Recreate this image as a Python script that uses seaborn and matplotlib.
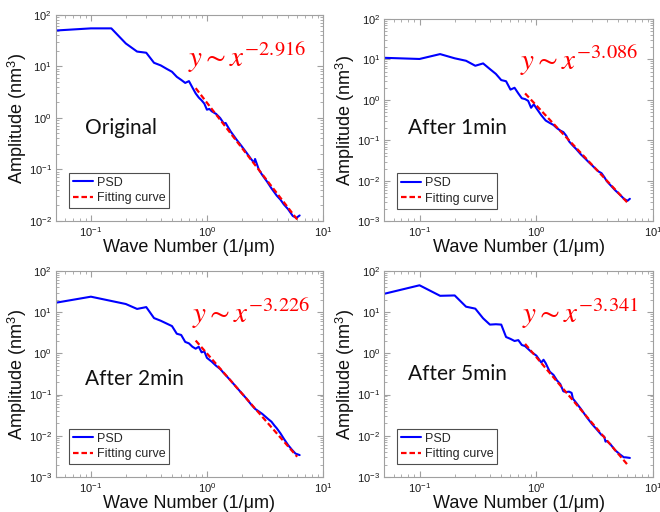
import numpy as np
import pandas as pd
import matplotlib
matplotlib.use('Agg')
import matplotlib.pyplot as plt
import seaborn as sns

# --- data ---
labels = ['Original', 'After 1min', 'After 2min', 'After 5min']
exponents = ['-2.916', '-3.086', '-3.226', '-3.341']

x_orig = [0.05, 0.1, 0.15, 0.2, 0.25, 0.3, 0.35, 0.4, 0.45, 0.5, 0.55, 0.6, 0.65, 0.7, 0.75,
          0.8, 0.85, 0.9, 0.95, 1.0, 1.05, 1.1, 1.2, 1.3, 1.4, 1.45, 1.5, 1.6, 1.8, 2.0,
          2.2, 2.4, 2.55, 2.6, 2.8, 3.0, 3.3, 3.6, 4.0, 4.3, 4.6, 5.0, 5.5, 5.9, 6.3]
y_orig = [50, 55, 55, 28, 19.5, 18.5, 11.8, 10.5, 9.0, 7.9, 6.3, 5.5, 4.8, 5.2, 3.9,
          3.0, 2.5, 2.2, 1.9, 1.45, 1.5, 1.35, 1.2, 1.0, 0.78, 0.8, 0.7, 0.55, 0.38, 0.28,
          0.21, 0.16, 0.135, 0.16, 0.1, 0.078, 0.058, 0.043, 0.031, 0.026, 0.021, 0.017, 0.0125, 0.0115, 0.0128]

x_1min = [0.05, 0.1, 0.15, 0.2, 0.25, 0.3, 0.35, 0.4, 0.45, 0.5, 0.55, 0.6, 0.65, 0.7, 0.75,
          0.8, 0.85, 0.9, 0.95, 1.0, 1.1, 1.2, 1.3, 1.4, 1.5, 1.6, 1.7, 1.8, 1.9, 2.0,
          2.2, 2.4, 2.6, 2.8, 3.0, 3.2, 3.4, 3.6, 3.8, 4.0, 4.3, 4.7, 5.2, 5.6, 6.0, 6.3]
y_1min = [11.0, 10.3, 13.6, 10.7, 9.3, 7.0, 8.0, 5.8, 4.4, 3.1, 2.9, 1.8, 2.0, 1.45, 1.1,
          1.05, 0.95, 0.64, 0.78, 0.62, 0.42, 0.31, 0.27, 0.24, 0.2, 0.175, 0.16, 0.13, 0.095, 0.08,
          0.06, 0.045, 0.036, 0.029, 0.024, 0.02, 0.017, 0.0155, 0.0125, 0.0098, 0.0078, 0.0059, 0.0045, 0.0036, 0.0032, 0.0036]

x_2min = [0.05, 0.1, 0.2, 0.25, 0.3, 0.35, 0.4, 0.5, 0.55, 0.6, 0.65, 0.7, 0.75, 0.8, 0.85,
          0.9, 0.95, 1.0, 1.1, 1.2, 1.3, 1.4, 1.6, 1.8, 2.0, 2.2, 2.4, 2.6, 2.8, 3.0,
          3.2, 3.4, 3.6, 3.8, 4.0, 4.3, 4.6, 5.0, 5.4, 5.8, 6.3]
y_2min = [17, 23.8, 15.8, 12.0, 13.3, 7.2, 6.2, 4.6, 3.0, 2.8, 1.9, 1.75, 1.45, 1.3, 1.45,
          1.06, 1.12, 0.78, 0.63, 0.5, 0.42, 0.33, 0.22, 0.15, 0.107, 0.079, 0.058, 0.045, 0.039, 0.034,
          0.029, 0.025, 0.022, 0.018, 0.0152, 0.0115, 0.0085, 0.006, 0.0046, 0.0037, 0.0034]

x_5min = [0.05, 0.1, 0.15, 0.2, 0.25, 0.3, 0.35, 0.4, 0.45, 0.5, 0.55, 0.6, 0.65, 0.7, 0.75,
          0.8, 0.9, 1.0, 1.1, 1.15, 1.2, 1.3, 1.4, 1.5, 1.6, 1.7, 1.8, 1.9, 2.0, 2.05,
          2.2, 2.4, 2.7, 3.0, 3.3, 3.6, 3.8, 3.9, 4.0, 4.3, 4.7, 5.2, 5.6, 5.8, 6.3]
y_5min = [28, 45, 25, 25.5, 13.6, 12.2, 7.1, 5.0, 5.1, 5.0, 2.5, 2.25, 2.0, 2.1, 1.6,
          1.5, 1.1, 0.88, 0.6, 0.7, 0.58, 0.36, 0.3, 0.22, 0.18, 0.12, 0.115, 0.118, 0.11, 0.08,
          0.062, 0.045, 0.028, 0.019, 0.014, 0.0105, 0.0095, 0.0072, 0.0075, 0.0062, 0.0045, 0.0035, 0.003, 0.003, 0.0029]

fit_x = [0.8, 6.0]
fit_y = [[3.8, 0.0107], [1.45, 0.0029], [2.05, 0.0031], [1.7, 0.0020]]

psd_x = [x_orig, x_1min, x_2min, x_5min]
psd_y = [y_orig, y_1min, y_2min, y_5min]
y_bottom = [1e-2, 1e-3, 1e-3, 1e-3]

# --- layout (figure fractions) ---
rects = [[0.0848, 0.5684, 0.4045, 0.4023],
         [0.5823, 0.5678, 0.4076, 0.3950],
         [0.0848, 0.0684, 0.4045, 0.4023],
         [0.5823, 0.0684, 0.4076, 0.4023]]
label_pos = [(0.11, 0.45), (0.087, 0.463), (0.109, 0.474), (0.087, 0.50)]
eq_pos = [(0.494, 0.748), (0.504, 0.749), (0.508, 0.749), (0.511, 0.749)]
ylab_x = -0.100

sns.set_style('ticks')
plt.rcParams['font.family'] = ['Liberation Sans', 'DejaVu Sans']
plt.rcParams['mathtext.fontset'] = 'stix'

fig = plt.figure(figsize=(6.6, 5.12), dpi=100)

for i in range(4):
    ax = fig.add_axes(rects[i])
    df = pd.DataFrame({'x': psd_x[i], 'y': psd_y[i]})
    fit_df = pd.DataFrame({'x': fit_x, 'y': fit_y[i]})
    sns.lineplot(data=df, x='x', y='y', ax=ax, color='#0000ff', lw=1.5,
                 label='PSD', errorbar=None)
    sns.lineplot(data=fit_df, x='x', y='y', ax=ax, color='#ff0000', lw=1.6,
                 linestyle=(0, (2.5, 1.3)), label='Fitting curve', errorbar=None)
    ax.set_xscale('log')
    ax.set_yscale('log')
    ax.set_xlim(0.05, 10)
    ax.set_ylim(y_bottom[i], 100)

    for s in ax.spines.values():
        s.set_color('#a0a0a0')
        s.set_linewidth(0.8)
    ax.tick_params(which='both', direction='in', top=True, right=True,
                   color='#a0a0a0', labelsize=8, labelcolor='#1a1a1a', pad=3)
    ax.tick_params(which='major', length=4)
    ax.tick_params(which='minor', length=2.5)

    ax.set_xlabel('Wave Number (1/\u03bcm)', fontsize=13, color='#111111')
    ax.set_ylabel('Amplitude (nm$^{\\mathregular{3}}$)', fontsize=13, color='#111111')
    ax.xaxis.set_label_coords(0.5, -0.088)
    ax.yaxis.set_label_coords(ylab_x, 0.5)

    leg = ax.legend(loc='lower left', bbox_to_anchor=(0.049, 0.063), borderaxespad=0,
                    fontsize=9, frameon=True, fancybox=False, handlelength=1.6,
                    handletextpad=0.3, borderpad=0.3, labelspacing=0.3)
    leg.get_frame().set_edgecolor('#222222')
    leg.get_frame().set_linewidth(0.8)

    ax.text(label_pos[i][0], label_pos[i][1], labels[i], transform=ax.transAxes,
            fontsize=15, family=['Lato', 'DejaVu Sans'], va='center', ha='left', color='#111111')
    ax.text(eq_pos[i][0], eq_pos[i][1], r'$y\sim x^{' + exponents[i] + '}$',
            transform=ax.transAxes, fontsize=21, color='#ff0000', va='baseline', ha='left')

fig.savefig('out.png', dpi=100)
